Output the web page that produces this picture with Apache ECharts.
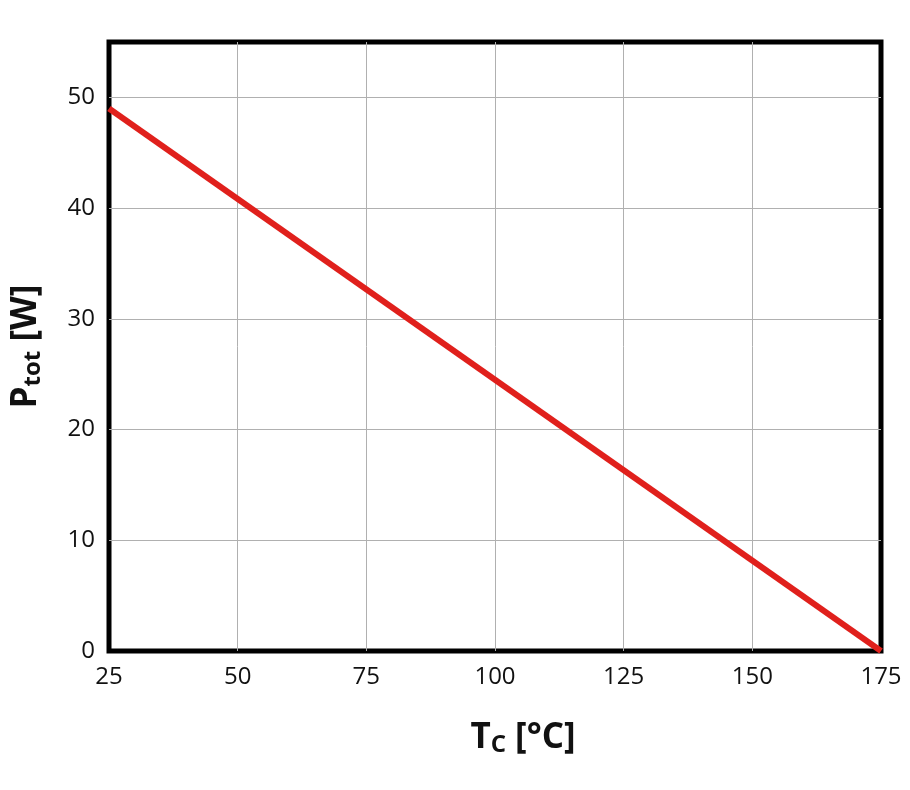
<!DOCTYPE html>
<html>
<head>
<meta charset="utf-8">
<script src="https://cdn.jsdelivr.net/npm/echarts@6/dist/echarts.min.js"></script>
<style>html,body{margin:0;padding:0;background:#fff;}#c{width:910px;height:790px;}</style>
</head>
<body>
<div id="c"></div>
<script>
const tempC = [25, 175];
const powerW = [49, 0];
const xTicks = [25, 50, 75, 100, 125, 150, 175];
const yTicks = [0, 10, 20, 30, 40, 50];

const chart = echarts.init(document.getElementById('c'), null, {renderer: 'canvas'});
const font = '"Open Sans", "DejaVu Sans", sans-serif';
chart.setOption({
  animation: false,
  backgroundColor: '#fff',
  grid: {left: 109, right: 29, top: 42, bottom: 139, show: true, borderColor: '#000', borderWidth: 5, backgroundColor: 'transparent'},
  xAxis: {
    type: 'value', min: 25, max: 175, interval: 25,
    axisLine: {show: false}, axisTick: {show: false},
    splitLine: {show: true, showMinLine: false, showMaxLine: false, lineStyle: {color: '#b0b0b0', width: 1}},
    axisLabel: {fontFamily: font, fontSize: 24, color: '#111', margin: 14,
      formatter: v => xTicks.includes(v) ? String(v) : ''},
    name: '{m|T}{s|C}{m| [°C]}', nameLocation: 'middle', nameGap: 68,
    nameTextStyle: {fontFamily: font, padding: [0, 0, 0, 56],
      rich: {m: {fontFamily: font, fontSize: 35, fontWeight: 'bold', color: '#111'},
             s: {fontFamily: font, fontSize: 24, fontWeight: 'bold', color: '#111', verticalAlign: 'bottom', padding: [14, 0, 0, 0]}}}
  },
  yAxis: {
    type: 'value', min: 0, max: 55, interval: 10,
    axisLine: {show: false}, axisTick: {show: false},
    splitLine: {show: true, showMinLine: false, showMaxLine: false, lineStyle: {color: '#b0b0b0', width: 1}},
    axisLabel: {fontFamily: font, fontSize: 24, color: '#111', margin: 14, showMaxLabel: false,
      formatter: v => yTicks.includes(v) ? String(v) : ''},
    name: '{m|P}{s|tot}{m| [W]}', nameLocation: 'middle', nameGap: 64,
    nameTextStyle: {fontFamily: font,
      rich: {m: {fontFamily: font, fontSize: 35, fontWeight: 'bold', color: '#111'},
             s: {fontFamily: font, fontSize: 24, fontWeight: 'bold', color: '#111', verticalAlign: 'bottom', padding: [14, 0, 0, 0]}}}
  },
  series: [{
    type: 'line', data: tempC.map((t, i) => [t, powerW[i]]),
    showSymbol: false, lineStyle: {color: '#e0201c', width: 6}, z: 1
  }]
});
</script>
</body>
</html>
